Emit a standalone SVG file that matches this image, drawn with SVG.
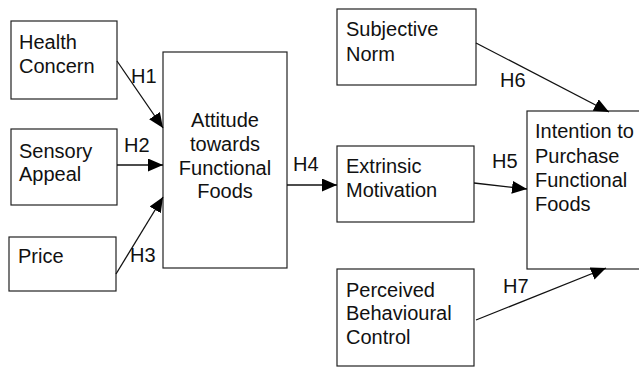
<svg xmlns="http://www.w3.org/2000/svg" width="639" height="367" viewBox="0 0 639 367">
<style>
.box{fill:#fff;stroke:#222;stroke-width:1.2}
text{font-family:"Liberation Sans",Arial,sans-serif;font-size:20px;fill:#111}
.c{text-anchor:middle}
.ln{stroke:#111;stroke-width:1.3;fill:none}
</style>
<defs>
<marker id="ah" markerUnits="userSpaceOnUse" markerWidth="16" markerHeight="14" refX="15" refY="6.5" orient="auto">
<path d="M0,0 L15,6.5 L0,13 z" fill="#000"/>
</marker>
</defs>
<rect width="639" height="367" fill="#fff"/>
<g id="health">
<rect class="box" x="11" y="21" width="106" height="78"/>
<text x="19" y="49">Health</text>
<text x="19" y="73">Concern</text>
</g>
<g id="sensory">
<rect class="box" x="11" y="129" width="106" height="76"/>
<text x="19" y="158">Sensory</text>
<text x="19" y="181">Appeal</text>
</g>
<g id="price">
<rect class="box" x="9" y="237" width="107" height="54"/>
<text x="18" y="263">Price</text>
</g>
<g id="attitude">
<rect class="box" x="163" y="52" width="124" height="216"/>
<text class="c" x="225" y="127">Attitude</text>
<text class="c" x="225" y="151">towards</text>
<text class="c" x="225" y="175">Functional</text>
<text class="c" x="225" y="198">Foods</text>
</g>
<g id="subjective">
<rect class="box" x="337" y="9" width="139" height="76"/>
<text x="346" y="36">Subjective</text>
<text x="346" y="61">Norm</text>
</g>
<g id="extrinsic">
<rect class="box" x="337" y="146" width="137" height="76"/>
<text x="346" y="173">Extrinsic</text>
<text x="346" y="197">Motivation</text>
</g>
<g id="pbc">
<rect class="box" x="337" y="269" width="137" height="97"/>
<text x="346" y="297">Perceived</text>
<text x="346" y="320">Behavioural</text>
<text x="346" y="344">Control</text>
</g>
<g id="intention">
<rect class="box" x="527" y="111" width="120" height="158"/>
<text x="535" y="138">Intention to</text>
<text x="535" y="163">Purchase</text>
<text x="535" y="187">Functional</text>
<text x="535" y="211">Foods</text>
</g>
<g id="connectors">
<line class="ln" x1="117" y1="61" x2="163" y2="128" marker-end="url(#ah)"/>
<line class="ln" x1="117" y1="165" x2="163" y2="165" marker-end="url(#ah)"/>
<line class="ln" x1="116" y1="274" x2="163" y2="197" marker-end="url(#ah)"/>
<line class="ln" x1="287" y1="185" x2="337" y2="185" marker-end="url(#ah)"/>
<line class="ln" x1="474" y1="183" x2="527" y2="189" marker-end="url(#ah)"/>
<line class="ln" x1="476" y1="43" x2="609" y2="112" marker-end="url(#ah)"/>
<line class="ln" x1="476" y1="320" x2="606" y2="268" marker-end="url(#ah)"/>
<text x="131" y="83">H1</text>
<text x="124" y="152">H2</text>
<text x="130" y="262">H3</text>
<text x="293" y="171">H4</text>
<text x="492" y="168">H5</text>
<text x="500" y="87">H6</text>
<text x="503" y="293">H7</text>
</g>
</svg>
